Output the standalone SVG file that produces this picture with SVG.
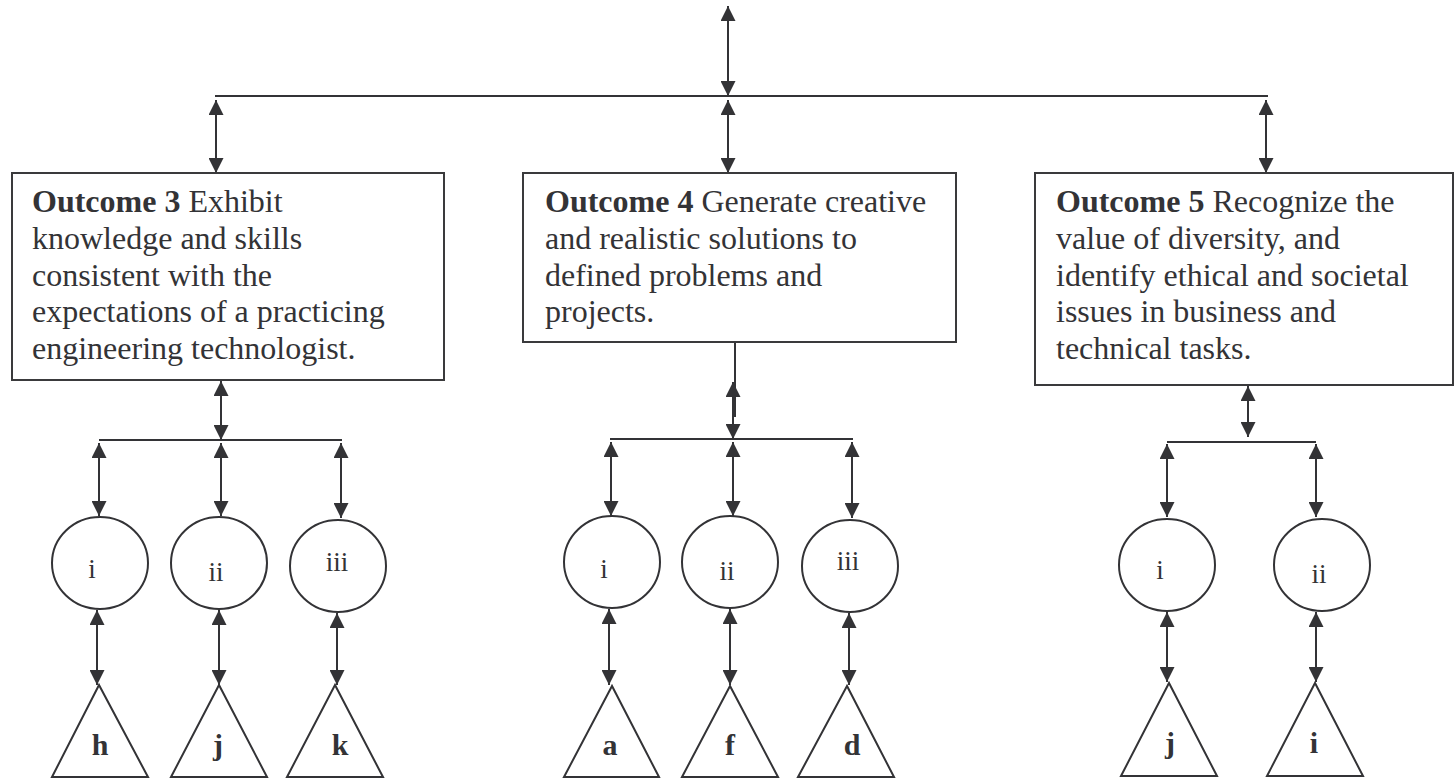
<svg xmlns="http://www.w3.org/2000/svg" width="1456" height="781" viewBox="0 0 1456 781">
<style>
.box{fill:#fff;stroke:#3a3a3c;stroke-width:2}
.node{fill:#fff;stroke:#333336;stroke-width:2}
.c{stroke:#333336;stroke-width:2;fill:none}
.a{marker-start:url(#ah);marker-end:url(#ah)}
.t{font-family:"Liberation Serif","Times New Roman",serif;font-size:32px;fill:#333336}
.lbl{font-family:"Liberation Serif","Times New Roman",serif;font-size:27px;fill:#333336;text-anchor:middle}
.tri{font-family:"Liberation Serif","Times New Roman",serif;font-size:30px;font-weight:bold;fill:#333336;text-anchor:middle}
</style>
<defs>
<marker id="ah" markerUnits="userSpaceOnUse" markerWidth="15" markerHeight="15" refX="15" refY="7.5" orient="auto-start-reverse">
<path d="M0,0 L15,7.5 L0,15 z" fill="#333336"/>
</marker>
</defs>
<rect width="1456" height="781" fill="#fff"/>
<g id="connectors">
<line class="c a" x1="728" y1="6" x2="728" y2="96"/>
<line class="c" x1="215" y1="96" x2="1268" y2="96"/>
<line class="c a" x1="216" y1="100" x2="216" y2="173"/>
<line class="c a" x1="728" y1="100" x2="728" y2="173"/>
<line class="c a" x1="1266" y1="100" x2="1266" y2="173"/>
<!-- group 1 -->
<line class="c a" x1="221" y1="381" x2="221" y2="440"/>
<line class="c" x1="99" y1="440" x2="342" y2="440"/>
<line class="c a" x1="99" y1="443" x2="99" y2="516"/>
<line class="c a" x1="221" y1="443" x2="221" y2="516"/>
<line class="c a" x1="341" y1="443" x2="341" y2="518"/>
<line class="c a" x1="97" y1="610" x2="97" y2="685"/>
<line class="c a" x1="219" y1="610" x2="219" y2="685"/>
<line class="c a" x1="337" y1="613" x2="337" y2="685"/>
<!-- group 2 -->
<line class="c" x1="735" y1="342" x2="735" y2="417"/>
<line class="c a" x1="733" y1="382" x2="733" y2="439"/>
<line class="c" x1="610" y1="439" x2="853" y2="439"/>
<line class="c a" x1="611" y1="442" x2="611" y2="516"/>
<line class="c a" x1="733" y1="442" x2="733" y2="516"/>
<line class="c a" x1="852" y1="442" x2="852" y2="518"/>
<line class="c a" x1="609" y1="609" x2="609" y2="685"/>
<line class="c a" x1="730" y1="609" x2="730" y2="685"/>
<line class="c a" x1="849" y1="613" x2="849" y2="685"/>
<!-- group 3 -->
<line class="c a" x1="1248" y1="386" x2="1248" y2="437"/>
<line class="c" x1="1167" y1="442" x2="1316" y2="442"/>
<line class="c a" x1="1167" y1="444" x2="1167" y2="517"/>
<line class="c a" x1="1316" y1="444" x2="1316" y2="517"/>
<line class="c a" x1="1167" y1="612" x2="1167" y2="682"/>
<line class="c a" x1="1316" y1="612" x2="1316" y2="682"/>
</g>
<g id="outcome3">
<rect class="box" x="12" y="173" width="432" height="207"/>
<text class="t" x="32" y="212"><tspan font-weight="bold">Outcome 3</tspan> Exhibit</text>
<text class="t" x="32" y="249">knowledge and skills</text>
<text class="t" x="32" y="286">consistent with the</text>
<text class="t" x="32" y="322">expectations of a practicing</text>
<text class="t" x="32" y="359">engineering technologist.</text>
</g>
<g id="outcome4">
<rect class="box" x="523" y="173" width="433" height="169"/>
<text class="t" x="545" y="212"><tspan font-weight="bold">Outcome 4</tspan> Generate creative</text>
<text class="t" x="545" y="249">and realistic solutions to</text>
<text class="t" x="545" y="286">defined problems and</text>
<text class="t" x="545" y="322">projects.</text>
</g>
<g id="outcome5">
<rect class="box" x="1035" y="173" width="418" height="212"/>
<text class="t" x="1056" y="212"><tspan font-weight="bold">Outcome 5</tspan> Recognize the</text>
<text class="t" x="1056" y="249">value of diversity, and</text>
<text class="t" x="1056" y="286">identify ethical and societal</text>
<text class="t" x="1056" y="322">issues in business and</text>
<text class="t" x="1056" y="359">technical tasks.</text>
</g>
<g id="o3-i"><ellipse class="node" cx="100" cy="563" rx="48" ry="46"/><text class="lbl" x="92" y="578">i</text></g>
<g id="o3-ii"><ellipse class="node" cx="219" cy="563" rx="48" ry="46"/><text class="lbl" x="216" y="581">ii</text></g>
<g id="o3-iii"><ellipse class="node" cx="338" cy="566" rx="48" ry="46"/><text class="lbl" x="337" y="571">iii</text></g>
<g id="o3-h"><polygon class="node" points="99,685 52,777 148,777"/><text class="tri" x="100" y="755">h</text></g>
<g id="o3-j"><polygon class="node" points="219,685 171,777 267,777"/><text class="tri" x="218" y="755">j</text></g>
<g id="o3-k"><polygon class="node" points="335,685 287,777 383,777"/><text class="tri" x="340" y="755">k</text></g>
<g id="o4-i"><ellipse class="node" cx="612" cy="562" rx="48" ry="46"/><text class="lbl" x="604" y="578">i</text></g>
<g id="o4-ii"><ellipse class="node" cx="730" cy="562" rx="48" ry="46"/><text class="lbl" x="727" y="580">ii</text></g>
<g id="o4-iii"><ellipse class="node" cx="850" cy="566" rx="48" ry="46"/><text class="lbl" x="848" y="570">iii</text></g>
<g id="o4-a"><polygon class="node" points="612,686 564,777 659,777"/><text class="tri" x="610" y="755">a</text></g>
<g id="o4-f"><polygon class="node" points="730,686 682,777 778,777"/><text class="tri" x="730" y="755">f</text></g>
<g id="o4-d"><polygon class="node" points="847,686 798,777 894,777"/><text class="tri" x="852" y="755">d</text></g>
<g id="o5-i"><ellipse class="node" cx="1167" cy="565" rx="48" ry="46"/><text class="lbl" x="1160" y="579">i</text></g>
<g id="o5-ii"><ellipse class="node" cx="1322" cy="565" rx="48" ry="46"/><text class="lbl" x="1319" y="583">ii</text></g>
<g id="o5-j"><polygon class="node" points="1169,683 1121,776 1217,776"/><text class="tri" x="1170" y="753">j</text></g>
<g id="o5-i2"><polygon class="node" points="1315,683 1267,776 1363,776"/><text class="tri" x="1314" y="753">i</text></g>
</svg>
